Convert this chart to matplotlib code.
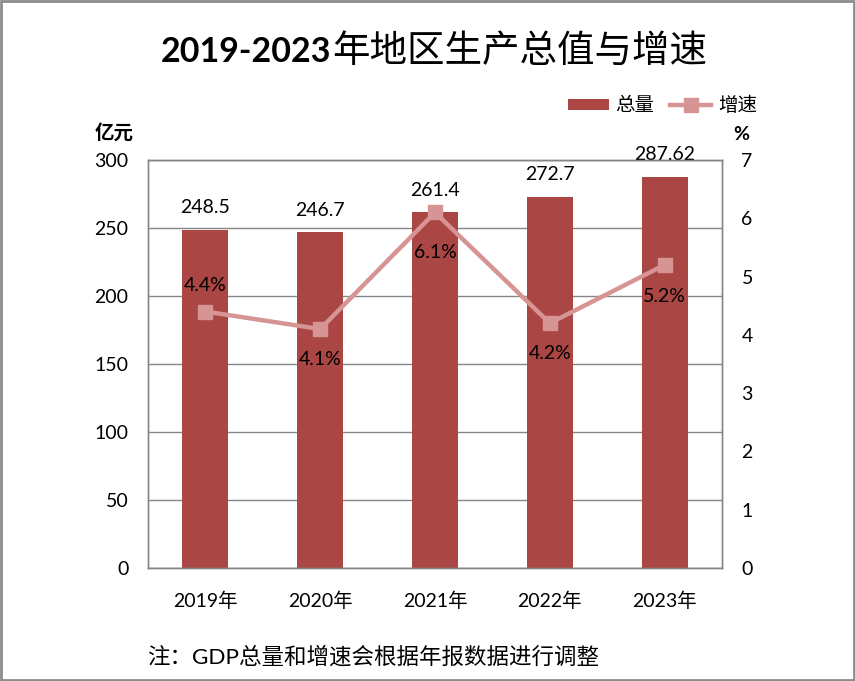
#!/usr/bin/env python3
"""2019-2023年地区生产总值与增速 — matplotlib"""
import numpy as np
import matplotlib
matplotlib.use('Agg')
import matplotlib.pyplot as plt
from matplotlib.patches import Patch, Rectangle
from matplotlib.lines import Line2D

plt.rcParams['font.family'] = ['Lato', 'Noto Sans CJK SC', 'DejaVu Sans']

# ---- data ----
years = [2019, 2020, 2021, 2022, 2023]
gdp = [248.5, 246.7, 261.4, 272.7, 287.62]       # 亿元
growth = [4.4, 4.1, 6.1, 4.2, 5.2]                # %
left_ticks = [0, 50, 100, 150, 200, 250, 300]
right_ticks = [0, 1, 2, 3, 4, 5, 6, 7]

# label offsets for growth labels (points, + above / - below)
growth_offsets = [19, -22, -29, -21.5, -23]

BAR_C = '#AA4643'
LINE_C = '#D69594'
GRID_C = '#868686'
W, H = 855, 681

fig = plt.figure(figsize=(W / 100, H / 100), dpi=100)
ax = fig.add_axes([148 / W, (H - 568) / H, 574 / W, 408 / H])
ax2 = ax.twinx()

x = np.arange(len(years))
ax.bar(x, gdp, width=0.4, color=BAR_C, zorder=2)
ax.set_xlim(-0.5, len(years) - 0.5)
ax.set_ylim(0, 300)
ax.set_yticks(left_ticks)
ax.yaxis.grid(True, color=GRID_C, lw=1)
ax.set_axisbelow(True)
ax.set_xticks(x, labels=[f'{y}年' for y in years])
ax.tick_params(axis='both', length=0, labelsize=14)
ax.tick_params(axis='y', pad=14)
ax.tick_params(axis='x', pad=17)

for xi, v in zip(x, gdp):
    ax.annotate(f'{v}', (xi, v), xytext=(0, 16), textcoords='offset points',
                ha='center', va='center', fontsize=14)

ax2.plot(x, growth, color=LINE_C, lw=3.2, marker='s', ms=10)
ax2.set_ylim(0, 7)
ax2.set_yticks(right_ticks)
ax2.tick_params(axis='y', length=0, labelsize=14, pad=14)
for xi, g, off in zip(x, growth, growth_offsets):
    ax2.annotate(f'{g}%', (xi, g), xytext=(0, off), textcoords='offset points',
                 ha='center', va='center', fontsize=14)

for a in (ax, ax2):
    for s in a.spines.values():
        s.set_color(GRID_C)
        s.set_linewidth(1)

# legend
handles = [Patch(facecolor=BAR_C),
           Line2D([], [], color=LINE_C, lw=3.2, marker='s', ms=10)]
fig.legend(handles, ['总量', '增速'], ncol=2, frameon=False,
           loc='center left', bbox_to_anchor=(568 / W, 1 - 105 / H),
           fontsize=14, handlelength=2.1, handleheight=0.5,
           handletextpad=0.35, columnspacing=0.8, borderpad=0, borderaxespad=0)

# axis unit labels
fig.text(95 / W, 1 - 132 / H, '亿元', fontsize=14, fontweight='bold', va='center')
fig.text(741 / W, 1 - 135 / H, '%', fontsize=14, fontweight='bold',
         ha='center', va='center')

# title: bold digits + regular CJK
t1 = fig.text(161 / W, 1 - 62 / H, '2019-2023', fontsize=24.5, fontweight='bold',
              va='baseline')
r = fig.canvas.get_renderer()
bb = t1.get_window_extent(r)
fig.text(bb.x1 / fig.bbox.width + 1 / W, 1 - 62 / H, '年地区生产总值与增速',
         fontsize=27, va='baseline')

# footer
fig.text(147 / W, 1 - 657 / H, '注：GDP总量和增速会根据年报数据进行调整',
         fontsize=16.2, va='center')

# outer border
fig.patches.append(Rectangle((0.001, 0.001), 0.998, 0.998, transform=fig.transFigure,
                             fill=False, edgecolor='#8C8C8C', lw=2))

fig.savefig('out.png', dpi=100)
